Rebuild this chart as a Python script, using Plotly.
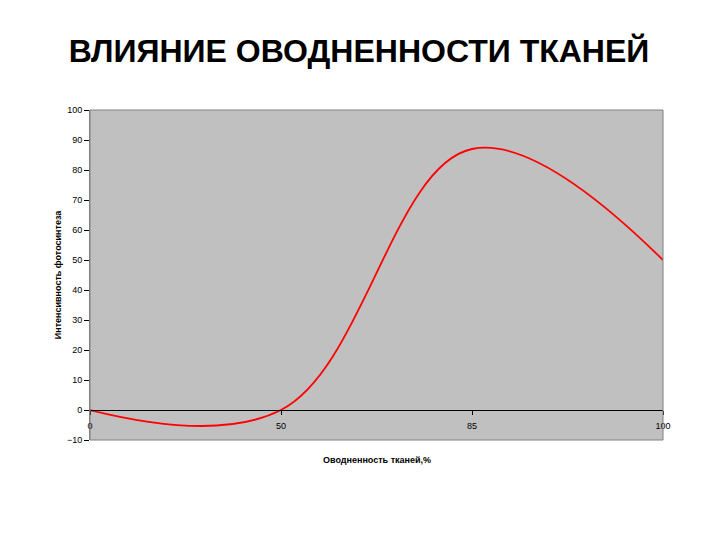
import plotly.graph_objects as go

# оводненность тканей, % (категории оси X) и интенсивность фотосинтеза
water = ["0", "50", "85", "100"]
photosynthesis = [0, 0, 87, 50]
y_ticks = list(range(-10, 101, 10))

fig = go.Figure()
fig.add_trace(go.Scatter(
    x=list(range(len(water))), y=photosynthesis,
    mode="lines",
    line=dict(color="#FF0000", width=1.8, shape="spline", smoothing=1.1),
    hoverinfo="skip",
))

font = "Liberation Sans, Arial, sans-serif"
y_min, y_max = -10, 100

fig.update_layout(
    width=720, height=540,
    margin=dict(l=82, r=65, t=102, b=108),
    paper_bgcolor="white",
    plot_bgcolor="#C0C0C0",
    showlegend=False,
    font=dict(family=font, size=9, color="black"),
    title=dict(text="<b>ВЛИЯНИЕ ОВОДНЕННОСТИ ТКАНЕЙ</b>",
               x=0.4875, xanchor="center", y=0.92, yanchor="middle",
               font=dict(family=font, size=32, color="black")),
    xaxis=dict(
        range=[0, len(water) - 1],
        tickmode="array", tickvals=list(range(len(water))), ticktext=water,
        showgrid=False, zeroline=False,
        showline=True, linecolor="black", linewidth=1,
        ticks="outside", ticklen=4, tickcolor="black",
        ticklabelstandoff=3,
        anchor="free", position=(0 - y_min) / (y_max - y_min),
        tickfont=dict(size=9),
    ),
    yaxis=dict(
        range=[y_min, y_max],
        tickmode="array", tickvals=y_ticks,
        showgrid=False, zeroline=False,
        showline=True, linecolor="#808080", linewidth=1,
        ticks="outside", ticklen=5, tickcolor="black",
        tickfont=dict(size=9),
        title=dict(text="<b>Интенсивность фотосинтеза</b>",
                   font=dict(size=9), standoff=3),
    ),
    shapes=[dict(type="rect", xref="paper", yref="paper",
                 x0=0, y0=0, x1=1, y1=1,
                 line=dict(color="#808080", width=1))],
    annotations=[dict(text="<b>Оводненность тканей,%</b>",
                      xref="paper", yref="paper", x=0.5, y=-0.06,
                      xanchor="center", yanchor="middle", showarrow=False,
                      font=dict(size=9))],
)

fig.write_html("out.html")
